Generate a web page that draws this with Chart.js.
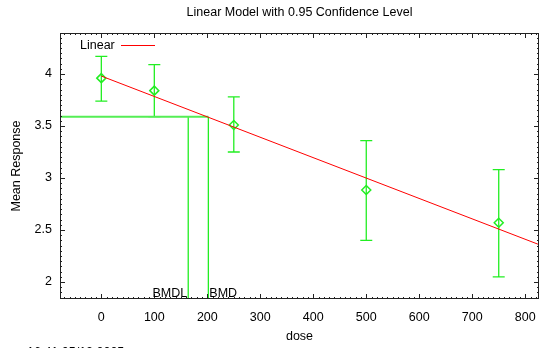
<!DOCTYPE html>
<html>
<head>
<meta charset="utf-8">
<script src="https://cdn.jsdelivr.net/npm/chart.js@4"></script>
<style>
  html, body { margin: 0; padding: 0; background: #fff; }
  #wrap { width: 539px; height: 348px; }
</style>
</head>
<body>
<div id="wrap"><canvas id="bmdChart"></canvas></div>
<script>
// dose groups and response
const doses = [0, 100, 250, 500, 750];
const means = [3.96, 3.84, 3.51, 2.885, 2.57];
const lower = [3.74, 3.59, 3.25, 2.40, 2.05];
const upper = [4.17, 4.09, 3.78, 3.36, 3.08];

// fitted linear model, end points
const fitX = [0, 826];
const fitY = [3.98, 2.36];

// benchmark dose
const bmr = 3.59;
const bmd = 202;
const bmdl = 164;

const xTicks = [0, 100, 200, 300, 400, 500, 600, 700, 800];
const yTicks = [2, 2.5, 3, 3.5, 4];
const xRange = [-78, 826];
const yRange = [1.837, 4.394];

const font = '"Liberation Sans", Arial, sans-serif';

// frame, ticks, error bars and labels
const decor = {
    id: 'decor',
    beforeDatasetsDraw(chart) {
        const c = chart.ctx;
        const xs = chart.scales.x, ys = chart.scales.y;
        c.save();
        // error bars
        c.strokeStyle = '#22ee22';
        c.lineWidth = 1.3;
        doses.forEach((d, i) => {
            const px = xs.getPixelForValue(d);
            const t = ys.getPixelForValue(upper[i]);
            const b = ys.getPixelForValue(lower[i]);
            c.beginPath();
            c.moveTo(px, t); c.lineTo(px, b);
            c.moveTo(px - 6, t); c.lineTo(px + 6, t);
            c.moveTo(px - 6, b); c.lineTo(px + 6, b);
            c.stroke();
        });
        c.restore();
    },
    afterDraw(chart) {
        const c = chart.ctx;
        const xs = chart.scales.x, ys = chart.scales.y;
        const a = chart.chartArea;
        c.save();
        c.strokeStyle = '#222';
        c.lineWidth = 1;
        c.strokeRect(a.left + 0.5, a.top + 0.5, a.right - a.left - 1, a.bottom - a.top - 1);
        c.beginPath();
        // minor x ticks every 10
        for (let v = -70; v <= xRange[1]; v += 10) {
            const px = Math.round(xs.getPixelForValue(v)) + 0.5;
            const len = (v % 100 === 0) ? 5 : 2;
            c.moveTo(px, a.bottom); c.lineTo(px, a.bottom - len);
            c.moveTo(px, a.top); c.lineTo(px, a.top + len);
        }
        // minor y ticks every 0.05
        for (let k = 37; k <= 87; k++) {
            const v = k * 0.05;
            if (v < yRange[0] || v > yRange[1]) continue;
            const py = Math.round(ys.getPixelForValue(v)) + 0.5;
            const len = (k % 10 === 0) ? 5 : 2;
            c.moveTo(a.left, py); c.lineTo(a.left + len, py);
            c.moveTo(a.right, py); c.lineTo(a.right - len, py);
        }
        c.stroke();

        // texts
        c.fillStyle = '#000';
        c.font = '12.5px ' + font;
        c.textAlign = 'center';
        c.textBaseline = 'middle';
        c.fillText('Linear Model with 0.95 Confidence Level', (a.left + a.right) / 2, 13);
        c.fillText('dose', (a.left + a.right) / 2, 337);
        c.save();
        c.translate(17, (a.top + a.bottom) / 2);
        c.rotate(-Math.PI / 2);
        c.fillText('Mean Response', 0, 0);
        c.restore();

        c.textBaseline = 'alphabetic';
        c.textAlign = 'right';
        c.fillText('BMDL', xs.getPixelForValue(bmdl) - 1, a.bottom - 2);
        c.textAlign = 'left';
        c.fillText('BMD', xs.getPixelForValue(bmd) + 1, a.bottom - 2);

        // legend
        c.fillText('Linear', 80, 49);
        c.strokeStyle = '#ff0000';
        c.beginPath();
        c.moveTo(121, 45.5); c.lineTo(155, 45.5);
        c.stroke();

        // time stamp, cut off by the window edge
        c.textBaseline = 'top';
        c.fillText('16:41 05/12 2005', 27, 346);
        c.restore();
    }
};

const ctx = document.getElementById('bmdChart').getContext('2d');
const bmdChart = new Chart(ctx, {
    type: 'scatter',
    data: {
        datasets: [{
            label: 'Linear',
            data: fitX.map((x, i) => ({ x: x, y: fitY[i] })),
            showLine: true,
            borderColor: '#ff0000',
            borderWidth: 1,
            pointRadius: 0
        }, {
            label: 'BMR',
            data: [{ x: xRange[0], y: bmr }, { x: bmd, y: bmr }],
            showLine: true,
            borderColor: '#55ee55',
            borderWidth: 2,
            pointRadius: 0
        }, {
            label: 'BMDL',
            data: [{ x: bmdl, y: bmr }, { x: bmdl, y: yRange[0] }],
            showLine: true,
            borderColor: '#22ee22',
            borderWidth: 1.3,
            pointRadius: 0
        }, {
            label: 'BMD',
            data: [{ x: bmd, y: bmr }, { x: bmd, y: yRange[0] }],
            showLine: true,
            borderColor: '#22ee22',
            borderWidth: 1.3,
            pointRadius: 0
        }, {
            label: 'Mean',
            data: doses.map((d, i) => ({ x: d, y: means[i] })),
            pointStyle: 'rectRot',
            pointRadius: 4.5,
            pointBorderWidth: 1.5,
            pointBorderColor: '#22ee22',
            pointBackgroundColor: 'rgba(0,0,0,0)'
        }]
    },
    options: {
        responsive: true,
        maintainAspectRatio: false,
        animation: false,
        layout: { autoPadding: false, padding: { top: 33, right: 0, left: 0, bottom: 0 } },
        plugins: {
            legend: { display: false },
            tooltip: { enabled: false }
        },
        scales: {
            x: {
                type: 'linear',
                min: xRange[0],
                max: xRange[1],
                afterBuildTicks: s => { s.ticks = xTicks.map(v => ({ value: v })); },
                afterFit: s => { s.height = 49; s.paddingLeft = 0; s.paddingRight = 0; },
                grid: { display: false },
                border: { display: false },
                ticks: {
                    color: '#000',
                    font: { family: font, size: 12.5 },
                    padding: 3,
                    maxRotation: 0
                }
            },
            y: {
                type: 'linear',
                min: yRange[0],
                max: yRange[1],
                afterBuildTicks: s => { s.ticks = yTicks.map(v => ({ value: v })); },
                afterFit: s => { s.width = 60; s.paddingTop = 0; s.paddingBottom = 0; },
                grid: { display: false },
                border: { display: false },
                ticks: {
                    color: '#000',
                    font: { family: font, size: 12.5 },
                    padding: 0,
                    callback: v => String(v)
                }
            }
        }
    },
    plugins: [decor]
});
</script>
</body>
</html>
